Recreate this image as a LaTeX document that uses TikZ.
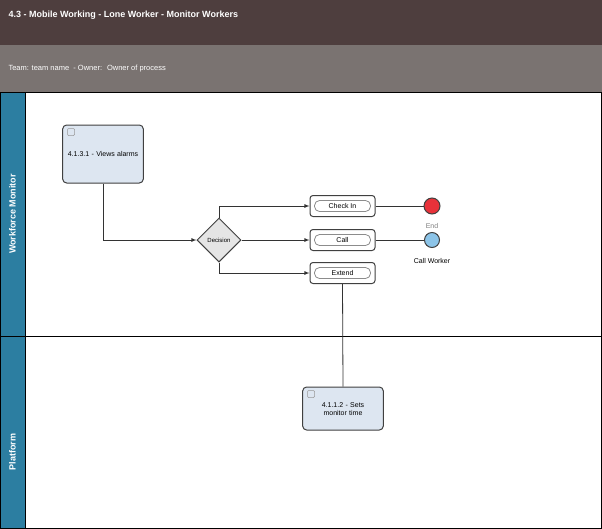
\documentclass[tikz,border=0pt]{standalone}
\usepackage{fontspec}
\setmainfont{Liberation Sans}
\usetikzlibrary{shapes.geometric}
\definecolor{headdark}{HTML}{4E3E3E}
\definecolor{headgray}{HTML}{7A7371}
\definecolor{lanebar}{HTML}{2C7EA1}
\definecolor{taskfill}{HTML}{DDE6F1}
\definecolor{endred}{HTML}{E8323A}
\definecolor{callblue}{HTML}{8CC4E8}
\begin{document}
\begin{tikzpicture}[
  x=1pt, y=-1pt,
  every node/.style={font=\fontsize{7}{8}\selectfont},
  task/.style={draw=black!75, line width=1pt, rounded corners=4pt, fill=taskfill,
    minimum width=79pt, align=center, text width=74pt},
  option/.style={draw=black!75, line width=1pt, rounded corners=3pt, fill=white,
    minimum width=65pt, minimum height=21pt},
  inner/.style={draw=black!45, line width=.8pt, rounded corners=5pt,
    minimum width=56pt, minimum height=11pt, inner sep=0pt},
  flow/.style={draw=black!80, line width=.8pt},
  arrow/.style={flow, -latex},
]
  \useasboundingbox (0,0) rectangle (602,528);

  % header bands
  \fill[headdark] (0,0) rectangle (602,45);
  \fill[headgray] (0,45) rectangle (602,92);
  \node[anchor=west, text=white, font=\bfseries\fontsize{9}{10}\selectfont] (title) at (5,15)
    {4.3 - Mobile Working - Lone Worker - Monitor Workers};
  \node[anchor=west, text=white, font=\fontsize{7.5}{8}\selectfont] (team) at (5,69)
    {Team: team name \ - Owner: \ Owner of process};

  % lanes
  \draw[fill=lanebar] (0,92) rectangle (25,336);
  \draw[fill=lanebar] (0,336) rectangle (25,528);
  \draw (25,92) rectangle (601.5,528);
  \draw (25,336) -- (601.5,336);
  \node[rotate=90, text=white, font=\bfseries\fontsize{9}{10}\selectfont] (lane1) at (12.5,214) {Workforce Monitor};
  \node[rotate=90, text=white, font=\bfseries\fontsize{9}{10}\selectfont] (lane2) at (12.5,452) {Platform};

  % tasks
  \node[task, minimum height=58pt] (alarms) at (103,154) {4.1.3.1 - Views alarms};
  \node[task, minimum height=43pt] (monitor) at (343,408.5) {\\[-2pt]4.1.1.2 - Sets monitor time};
  \node[draw=black!40, line width=.5pt, rounded corners=1pt, minimum size=7pt, inner sep=0pt] (user) at (71,132) {};
  \node[draw=black!40, line width=.5pt, rounded corners=1pt, minimum size=7pt, inner sep=0pt] (auto) at (311,394) {};

  \node[diamond, draw=black!75, line width=1pt, fill=black!10, minimum size=44pt, inner sep=0pt,
    font=\fontsize{6}{6}\selectfont] (decision) at (219,240) {Decision};

  \node[option] (checkin) at (342.5,206) {};
  \node[inner] at (checkin) {Check In};
  \node[option] (call) at (342.5,240) {};
  \node[inner] at (call) {Call};
  \node[option] (extend) at (342.5,273) {};
  \node[inner] at (extend) {Extend};

  \node[circle, draw=black!75, line width=1pt, fill=endred, minimum size=16pt, inner sep=0pt] (endcheck) at (432,206) {};
  \node[circle, draw=black!75, line width=1pt, fill=callblue, minimum size=15pt, inner sep=0pt] (worker) at (432,240) {};
  \node[text=black!50] (endlabel) at (432,226) {End};
  \node (workerlabel) at (432,261) {Call Worker};

  % flows
  \draw[arrow] (alarms.south) |- (decision.west);
  \draw[arrow] (decision.north) |- (checkin.west);
  \draw[arrow] (decision.east) -- (call.west);
  \draw[arrow] (decision.south) |- (extend.west);
  \draw[flow] (checkin.east) -- (endcheck.west);
  \draw[flow] (call.east) -- (worker.west);
  \draw[flow] (extend.south) -- (monitor.north);
\end{tikzpicture}
\end{document}
